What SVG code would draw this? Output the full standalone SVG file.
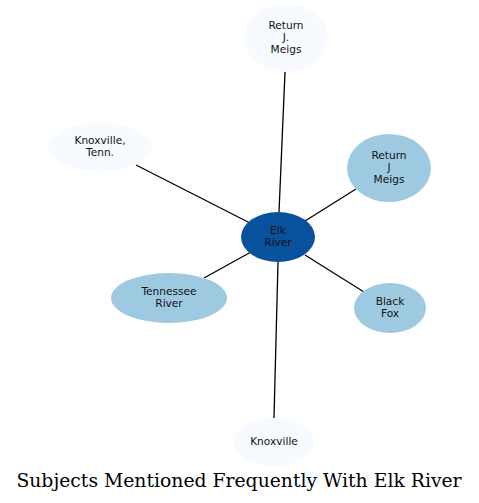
<svg xmlns="http://www.w3.org/2000/svg" width="479" height="503" viewBox="0 0 479 503">
<style>
.n text{font-family:"DejaVu Sans",sans-serif;font-size:10.6px;text-anchor:middle;fill:#111}
.light{fill:#f7fbff}
.mid{fill:#9ecae1}
.dark{fill:#08519c}
.e line{stroke:#000;stroke-width:1.3}
.title{font-family:"DejaVu Serif",serif;font-size:18.8px;text-anchor:middle;fill:#000}
</style>
<rect width="479" height="503" fill="#fff"/>
<g class="e" id="edges">
<line x1="279" y1="212" x2="285" y2="72"/>
<line x1="305" y1="221" x2="356" y2="189"/>
<line x1="250" y1="223" x2="136" y2="165"/>
<line x1="251" y1="252" x2="204" y2="278"/>
<line x1="305" y1="255" x2="364" y2="292"/>
<line x1="278" y1="262" x2="274" y2="418"/>
</g>
<g class="n" id="n-return-j-dot-meigs">
<ellipse class="light" cx="286" cy="38" rx="42" ry="34"/>
<text x="286" y="29">Return</text><text x="286" y="41">J.</text><text x="286" y="53">Meigs</text>
</g>
<g class="n" id="n-return-j-meigs">
<ellipse class="mid" cx="389" cy="168" rx="42" ry="34"/>
<text x="389" y="159">Return</text><text x="389" y="171">J</text><text x="389" y="183">Meigs</text>
</g>
<g class="n" id="n-knoxville-tenn">
<ellipse class="light" cx="100" cy="147" rx="52" ry="24"/>
<text x="100" y="144">Knoxville,</text><text x="100" y="156">Tenn.</text>
</g>
<g class="n" id="n-elk-river">
<ellipse class="dark" cx="278" cy="237" rx="37" ry="25"/>
<text x="278" y="234">Elk</text><text x="278" y="246">River</text>
</g>
<g class="n" id="n-tennessee-river">
<ellipse class="mid" cx="169" cy="298" rx="58" ry="25"/>
<text x="169" y="295">Tennessee</text><text x="169" y="307">River</text>
</g>
<g class="n" id="n-black-fox">
<ellipse class="mid" cx="390" cy="308" rx="36" ry="25"/>
<text x="390" y="305">Black</text><text x="390" y="317">Fox</text>
</g>
<g class="n" id="n-knoxville">
<ellipse class="light" cx="274" cy="442" rx="40" ry="24"/>
<text x="274" y="445">Knoxville</text>
</g>
<text class="title" x="239" y="487">Subjects Mentioned Frequently With Elk River</text>
</svg>
